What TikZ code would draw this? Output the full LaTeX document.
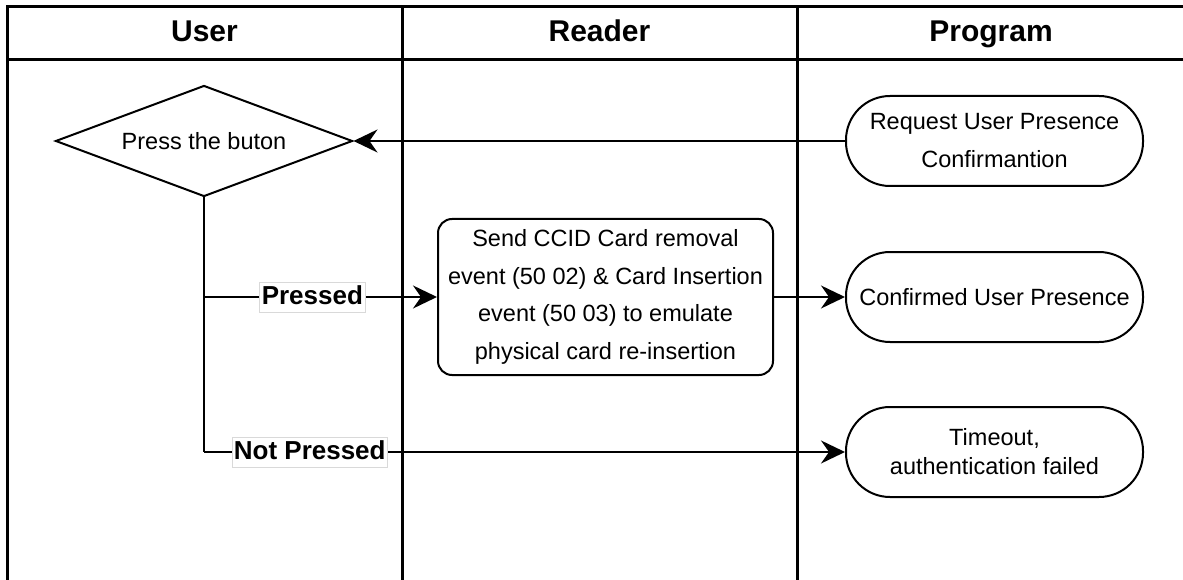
\documentclass[tikz,border=0pt]{standalone}
\usepackage{fontspec}
\setmainfont{Liberation Sans}
\usetikzlibrary{shapes.geometric,arrows.meta}

\tikzset{
  lane/.style={line width=3pt, line cap=rect},
  head/.style={font=\fontsize{30}{36}\selectfont\bfseries, anchor=center,
    text height=22pt, text depth=6pt, inner sep=0pt},
  decision/.style={diamond, draw, line width=2pt, shape aspect=2.68,
    minimum width=297pt, minimum height=111pt, inner sep=0pt,
    font=\fontsize{23.5}{28}\selectfont},
  terminal/.style={draw, line width=2pt, rounded corners=44pt,
    minimum width=297pt, minimum height=90pt, inner sep=0pt, align=center},
  process/.style={draw, line width=2pt, rounded corners=14pt,
    minimum width=335pt, minimum height=156pt, inner sep=0pt, align=center,
    font=\fontsize{23.5}{37.7}\selectfont},
  conn/.style={line width=2pt},
  arr/.style={conn, -{Stealth[length=24pt,width=23pt,inset=8pt]}},
  lbl/.style={fill=white, draw=black!15, line width=0.6pt,
    font=\fontsize{26}{30}\selectfont\bfseries,
    inner xsep=2pt, inner ysep=3pt, text height=19pt, text depth=5pt}
}

\begin{document}
\begin{tikzpicture}[x=1pt, y=-1pt]
  \useasboundingbox (0,0) rectangle (1183,580);

  % swimlane frame (open at the right and bottom)
  \draw[lane] (1183,7) -- (7,7) -- (7,580);
  \draw[lane] (7,60) -- (1183,60);
  \draw[lane] (402,7) -- (402,580);
  \draw[lane] (797,7) -- (797,580);

  % lane titles
  \node[head] (hUser)    at (204.5,34) {User};
  \node[head] (hReader)  at (599.5,34) {Reader};
  \node[head] (hProgram) at (991,34)   {Program};

  % steps
  \node[decision] (dia) at (204,141) {Press the buton};
  \node[terminal, font=\fontsize{23.5}{38}\selectfont] (req) at (994.5,141)
    {Request User Presence\\Confirmantion};
  \node[process] (ccid) at (605.5,297)
    {Send CCID Card removal\\event (50 02) \& Card Insertion\\event (50 03) to emulate\\physical card re-insertion};
  \node[terminal, font=\fontsize{23.5}{28}\selectfont] (conf) at (994.5,297)
    {Confirmed User Presence};
  \node[terminal, font=\fontsize{23.5}{29}\selectfont] (tmo) at (994.5,452)
    {Timeout,\\authentication failed};

  % flow
  \draw[arr] (req.west) -- (dia.east);
  \coordinate (np) at (dia.south |- tmo.west);
  \draw[conn] (dia.south) -- (np);
  \draw[arr] (dia.south |- ccid.west) -- node[lbl, pos=0.465] (lp) {Pressed} (ccid.west);
  \draw[arr] (np) -- node[lbl, pos=0.165] (lnp) {Not Pressed} (tmo.west);
  \draw[arr] (ccid.east) -- (conf.west);
\end{tikzpicture}
\end{document}
